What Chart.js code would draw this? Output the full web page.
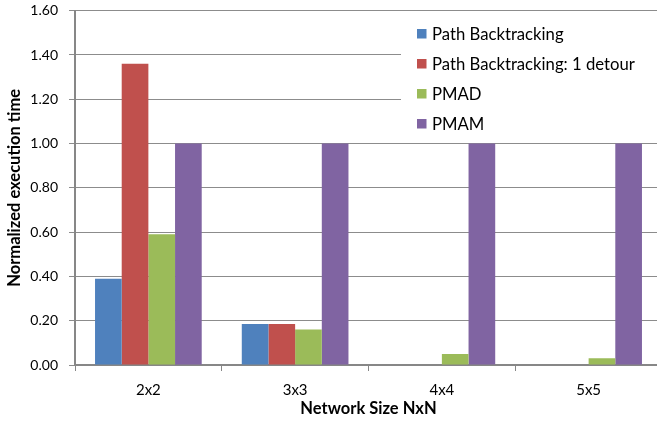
<!DOCTYPE html>
<html>
<head>
<meta charset="utf-8">
<script src="https://cdn.jsdelivr.net/npm/chart.js@4/dist/chart.umd.min.js"></script>
<style>
  html, body { margin: 0; padding: 0; background: #fff; overflow: hidden; }
  #wrap { width: 657px; height: 430px; overflow: hidden; }
  canvas { display: block; }
</style>
</head>
<body>
<div id="wrap"><canvas id="chart" width="662" height="430"></canvas></div>
<script>
// Network sizes on the x axis
const categories = ['2x2', '3x3', '4x4', '5x5'];

// Normalized execution time per scheme
const pathBacktracking       = [0.39, 0.185, 0, 0];
const pathBacktrackingDetour = [1.36, 0.185, 0, 0];
const pmad                   = [0.59, 0.16, 0.05, 0.03];
const pmam                   = [1.00, 1.00, 1.00, 1.00];

const seriesNames  = ['Path Backtracking', 'Path Backtracking: 1 detour', 'PMAD', 'PMAM'];
const seriesValues = [pathBacktracking, pathBacktrackingDetour, pmad, pmam];
const seriesColors = ['#4F81BD', '#C0504D', '#9BBB59', '#8064A2'];

// Value axis range and step
const yMin = 0, yMax = 1.6, yStep = 0.2;

const FONT = 'Lato, "Liberation Sans", Arial, sans-serif';
const GRID = '#8c8c8c';
const AXIS = '#878787';

// Legend drawn as a white panel in the upper right of the plot
const panelLegend = {
  id: 'panelLegend',
  beforeDatasetsDraw(chart) {
    const ctx = chart.ctx;
    ctx.save();
    ctx.fillStyle = '#ffffff';
    ctx.fillRect(401, 12.5, chart.width - 401, 130);
    ctx.restore();
  },
  afterDatasetsDraw(chart) {
    const ctx = chart.ctx;
    ctx.save();
    ctx.font = '16.7px ' + FONT;
    ctx.textBaseline = 'alphabetic';
    ctx.textAlign = 'left';
    chart.data.datasets.forEach((ds, i) => {
      const top = 29 + 30 * i;
      ctx.fillStyle = ds.backgroundColor;
      ctx.fillRect(417, top, 9.5, 9.5);
      ctx.fillStyle = '#000';
      ctx.fillText(ds.label, 432, top + 10.5);
    });
    ctx.restore();
  }
};

new Chart(document.getElementById('chart'), {
  type: 'bar',
  data: {
    labels: categories,
    datasets: seriesNames.map((name, i) => ({
      label: name,
      data: seriesValues[i],
      backgroundColor: seriesColors[i],
      borderWidth: 0,
      categoryPercentage: 0.727,
      barPercentage: 1.0
    }))
  },
  options: {
    responsive: false,
    animation: false,
    layout: { padding: { top: 10.7, right: 0, bottom: 0, left: 0 } },
    plugins: {
      legend: { display: false },
      tooltip: { enabled: false }
    },
    scales: {
      x: {
        ticks: { color: '#000', font: { family: FONT, size: 15 }, padding: 10 },
        grid: { drawOnChartArea: false, drawTicks: true, tickLength: 6, color: AXIS, offset: true },
        border: { color: AXIS, width: 2 },
        title: {
          display: true, text: 'Network Size NxN', color: '#000',
          font: { family: FONT, size: 16.5, weight: 'bold' },
          padding: { top: 0, bottom: 11.2 }
        },
        afterFit(scale) { scale.height = 65; }
      },
      y: {
        min: yMin, max: yMax,
        ticks: {
          stepSize: yStep, color: '#000', padding: 11,
          font: { family: FONT, size: 14 },
          callback: v => Number(v).toFixed(2)
        },
        grid: { color: GRID, lineWidth: 1, tickLength: 6, drawTicks: true },
        border: { color: AXIS, width: 2 },
        title: {
          display: true, text: 'Normalized execution time', color: '#000',
          font: { family: FONT, size: 16.5, weight: 'bold' },
          padding: { top: 5.1, bottom: 0 }
        },
        afterFit(scale) {
          scale.width = 75;
          scale.paddingTop = 0;
          scale.paddingBottom = 0;
        }
      }
    }
  },
  plugins: [panelLegend]
});
</script>
</body>
</html>
